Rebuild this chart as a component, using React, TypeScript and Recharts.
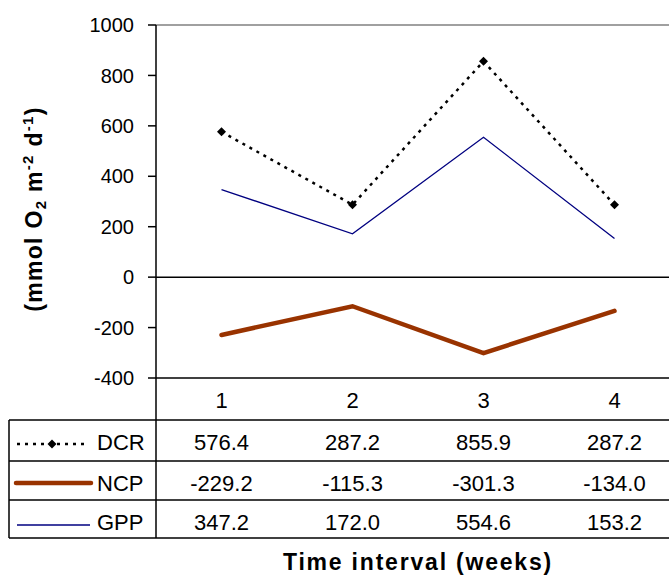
import React from 'react';
import { LineChart, Line, XAxis, YAxis, ReferenceLine } from 'recharts';

const weeks = ['1', '2', '3', '4'];
const dcr = [576.4, 287.2, 855.9, 287.2];
const ncp = [-229.2, -115.3, -301.3, -134.0];
const gpp = [347.2, 172.0, 554.6, 153.2];
const yTicks = [-400, -200, 0, 200, 400, 600, 800, 1000];
const seriesNames = ['DCR', 'NCP', 'GPP'];

const data = weeks.map((w, i) => ({ week: w, DCR: dcr[i], NCP: ncp[i], GPP: gpp[i] }));

const FONT = '"Liberation Sans", Arial, Helvetica, sans-serif';
const TFS = 22;

const Diamond = (props: any) => {
  const { cx, cy } = props;
  if (cx == null || cy == null) return null;
  const r = 4.5;
  return <polygon points={`${cx},${cy - r} ${cx + r},${cy} ${cx},${cy + r} ${cx - r},${cy}`} fill="#000" />;
};

const TableFrame = ({ y0 }: { y0: number }) => {
  const rows = [y0 + 42, y0 + 83, y0 + 122, y0 + 160];
  const keyY = [y0 + 66, y0 + 105, y0 + 147];
  const textY = [y0 + 72.4, y0 + 113, y0 + 152];
  return (
    <g>
      {rows.map((ry, k) => (
        <line key={k} x1={9} x2={700} y1={ry} y2={ry} stroke="#000" strokeWidth={1.5} />
      ))}
      <line x1={9} x2={9} y1={rows[0]} y2={rows[3]} stroke="#000" strokeWidth={1.5} />
      <line x1={156} x2={156} y1={y0} y2={rows[3]} stroke="#000" strokeWidth={1.5} />
      <line x1={17} x2={86} y1={keyY[0]} y2={keyY[0]} stroke="#000" strokeWidth={2.5} strokeDasharray="3 5" />
      <Diamond cx={52} cy={keyY[0]} />
      <line x1={16} x2={91} y1={keyY[1]} y2={keyY[1]} stroke="#993300" strokeWidth={4.5} strokeLinecap="round" />
      <line x1={17} x2={90} y1={keyY[2]} y2={keyY[2]} stroke="#000080" strokeWidth={1.3} />
      {seriesNames.map((n, k) => (
        <text key={n} x={97} y={textY[k]} fontSize={TFS} fontFamily={FONT} fill="#000">{n}</text>
      ))}
    </g>
  );
};

const TableTick = (props: any) => {
  const { x, y, payload, index } = props;
  const i = weeks.indexOf(String(payload.value));
  const common = { x, textAnchor: 'middle' as const, fontSize: TFS, fontFamily: FONT, fill: '#000' };
  return (
    <g>
      {index === 0 && <TableFrame y0={y} />}
      <text {...common} y={y + 30.4}>{payload.value}</text>
      <text {...common} y={y + 72.4}>{dcr[i].toFixed(1)}</text>
      <text {...common} y={y + 113}>{ncp[i].toFixed(1)}</text>
      <text {...common} y={y + 152}>{gpp[i].toFixed(1)}</text>
    </g>
  );
};

const YLabel = () => (
  <text
    transform="rotate(-90, 41.5, 209)"
    x={41.5}
    y={209}
    textAnchor="middle"
    fontSize={23}
    fontWeight="bold"
    fontFamily={FONT}
    letterSpacing={1.3}
    fill="#000"
  >
    (mmol O<tspan fontSize={15} dy={4}>2</tspan>
    <tspan dy={-4}> m</tspan>
    <tspan fontSize={15} dy={-9}>-2</tspan>
    <tspan dy={9}> d</tspan>
    <tspan fontSize={15} dy={-9}>-1</tspan>
    <tspan dy={9}>)</tspan>
  </text>
);

export default function App() {
  return (
    <div style={{ position: 'absolute', left: 0, top: 0, width: 669, height: 579, overflow: 'hidden', background: '#fff' }}>
      <LineChart width={690} height={579} data={data} margin={{ top: 25, right: 10, left: 0, bottom: 0 }}>
        <XAxis
          dataKey="week"
          padding={{ left: 65.5, right: 65.5 }}
          height={201}
          tickSize={0}
          tickMargin={0}
          tickLine={false}
          interval={0}
          axisLine={{ stroke: '#000', strokeWidth: 1.5 }}
          tick={<TableTick />}
          label={{
            value: 'Time interval (weeks)',
            position: 'insideBottom',
            offset: 9,
            style: { fontSize: 23, fontWeight: 'bold', fontFamily: FONT, fill: '#000', letterSpacing: 1.8 },
          }}
        />
        <YAxis
          domain={[-400, 1000]}
          ticks={yTicks}
          interval={0}
          width={156}
          tickSize={8}
          tickMargin={14}
          axisLine={{ stroke: '#000', strokeWidth: 1.5 }}
          tickLine={{ stroke: '#000', strokeWidth: 1.5 }}
          tick={{ fontSize: 20, fontFamily: FONT, fill: '#000' }}
          label={{ content: () => <YLabel /> }}
        />
        <ReferenceLine y={1000} stroke="#808080" strokeWidth={1.5} />
        <ReferenceLine y={0} stroke="#000" strokeWidth={1.5} />
        <Line type="linear" dataKey="GPP" stroke="#000080" strokeWidth={1.3} dot={false} activeDot={false} isAnimationActive={false} />
        <Line type="linear" dataKey="NCP" stroke="#993300" strokeWidth={4.5} strokeLinecap="round" dot={false} activeDot={false} isAnimationActive={false} />
        <Line type="linear" dataKey="DCR" stroke="#000" strokeWidth={2.5} strokeDasharray="3 5" dot={<Diamond />} activeDot={false} isAnimationActive={false} />
      </LineChart>
    </div>
  );
}
